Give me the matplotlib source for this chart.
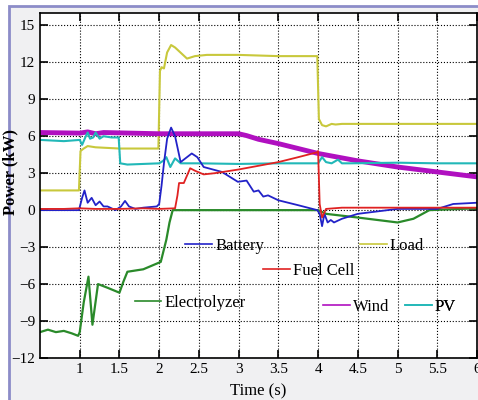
import matplotlib
matplotlib.use("Agg")
import matplotlib.pyplot as plt
from matplotlib.lines import Line2D
from matplotlib.patches import Rectangle

# time (s) / power (kW)
load_t = [0.5, 0.99, 1.01, 1.05, 1.1, 1.2, 1.5, 1.99, 2.01, 2.03, 2.06, 2.1, 2.15, 2.2, 2.3, 2.35, 2.45, 2.6, 3.0, 3.5, 3.99, 4.01, 4.05, 4.1, 4.17, 4.22, 4.3, 5.0, 6.0]
load_p = [1.6, 1.6, 4.8, 5.0, 5.2, 5.1, 5.0, 5.0, 11.3, 11.6, 11.5, 12.8, 13.4, 13.2, 12.6, 12.3, 12.5, 12.6, 12.6, 12.5, 12.5, 7.4, 6.9, 6.8, 7.0, 6.95, 7.0, 7.0, 7.0]

wind_t = [0.5, 1.0, 1.1, 1.2, 1.3, 2.0, 2.5, 3.0, 3.1, 3.25, 3.5, 3.75, 4.0, 4.25, 4.5, 4.75, 5.0, 5.25, 5.5, 5.75, 6.0]
wind_p = [6.3, 6.25, 6.35, 6.2, 6.3, 6.2, 6.2, 6.2, 6.05, 5.75, 5.4, 5.0, 4.6, 4.3, 4.0, 3.75, 3.5, 3.3, 3.1, 2.9, 2.7]

pv_t = [0.5, 0.8, 1.0, 1.03, 1.07, 1.1, 1.13, 1.17, 1.2, 1.25, 1.3, 1.4, 1.49, 1.51, 1.6, 1.8, 2.0, 2.05, 2.09, 2.14, 2.2, 2.27, 2.35, 2.5, 3.0, 3.5, 4.0, 4.05, 4.1, 4.17, 4.25, 4.3, 4.4, 5.0, 5.5, 6.0]
pv_p = [5.7, 5.6, 5.7, 5.3, 5.9, 6.3, 5.8, 5.9, 6.3, 5.8, 6.0, 5.9, 5.9, 3.8, 3.7, 3.75, 3.8, 4.0, 4.3, 3.5, 4.2, 3.8, 3.8, 3.8, 3.75, 3.8, 3.8, 4.3, 3.9, 3.8, 4.1, 3.8, 3.8, 3.85, 3.8, 3.8]

bat_t = [0.5, 0.99, 1.03, 1.06, 1.1, 1.15, 1.2, 1.25, 1.3, 1.35, 1.45, 1.52, 1.57, 1.62, 1.7, 1.8, 1.97, 2.0, 2.03, 2.06, 2.1, 2.15, 2.2, 2.27, 2.35, 2.41, 2.48, 2.56, 2.79, 2.99, 3.1, 3.19, 3.25, 3.31, 3.37, 3.5, 3.75, 3.99, 4.02, 4.05, 4.08, 4.12, 4.16, 4.2, 4.3, 4.5, 5.0, 5.5, 5.7, 6.0]
bat_p = [0.0, 0.0, 1.0, 1.6, 0.6, 1.0, 0.4, 0.7, 0.3, 0.3, 0.0, 0.3, 0.75, 0.3, 0.1, 0.2, 0.3, 0.5, 2.0, 3.8, 5.8, 6.7, 6.0, 3.9, 4.3, 4.6, 4.3, 3.5, 3.1, 2.3, 2.4, 1.5, 1.6, 1.1, 1.2, 0.8, 0.4, 0.0, -0.3, -1.3, -0.3, -1.0, -0.8, -1.0, -0.7, -0.3, 0.1, 0.1, 0.5, 0.6]

fc_t = [0.5, 0.8, 1.0, 1.2, 1.5, 1.8, 2.0, 2.2, 2.23, 2.25, 2.31, 2.35, 2.39, 2.45, 2.56, 2.7, 3.0, 3.25, 3.5, 3.75, 3.99, 4.0, 4.02, 4.05, 4.1, 4.3, 5.0, 6.0]
fc_p = [0.1, 0.1, 0.15, 0.1, 0.1, 0.15, 0.1, 0.15, 1.2, 2.2, 2.2, 2.8, 3.4, 3.2, 2.9, 3.0, 3.3, 3.6, 3.9, 4.3, 4.7, 4.8, 0.5, -0.6, 0.1, 0.2, 0.2, 0.2]

el_t = [0.5, 0.6, 0.7, 0.8, 0.9, 0.98, 1.0, 1.05, 1.11, 1.16, 1.23, 1.35, 1.5, 1.55, 1.6, 1.8, 2.02, 2.09, 2.13, 2.17, 2.2, 3.0, 4.0, 4.1, 4.5, 5.0, 5.2, 5.4, 6.0]
el_p = [-9.9, -9.7, -9.9, -9.8, -10.0, -10.2, -9.9, -7.5, -5.4, -9.3, -6.0, -6.3, -6.7, -5.8, -5.0, -4.8, -4.2, -2.4, -1.0, 0.0, 0.0, 0.0, 0.0, -0.3, -0.6, -1.0, -0.7, 0.0, 0.15]

x_ticks = [1, 1.5, 2, 2.5, 3, 3.5, 4, 4.5, 5, 5.5, 6]
x_labels = ["1", "1.5", "2", "2.5", "3", "3.5", "4", "4.5", "5", "5.5", "6"]
y_ticks = [-12, -9, -6, -3, 0, 3, 6, 9, 12, 15]

plt.rcParams["font.family"] = ["Liberation Serif", "DejaVu Serif"]

fig = plt.figure(figsize=(4.78, 4.0), dpi=100)
fig.patch.set_facecolor("white")
fig.add_artist(Rectangle((9 / 478, -0.05), 1.1, 394 / 400 + 0.05, transform=fig.transFigure,
                         facecolor="#f0f0f2", edgecolor="#8c8cc8", lw=2, zorder=-10))

ax = fig.add_axes([40 / 478, 42 / 400, 437 / 478, 345 / 400])
ax.set_facecolor("white")

c_load, c_wind, c_pv = "#c8c83c", "#b010c0", "#22b8b8"
c_bat, c_fc, c_el = "#2222c8", "#e02222", "#2a8a2a"

ax.plot(load_t, load_p, color=c_load, lw=1.5)
ax.plot(wind_t, wind_p, color=c_wind, lw=3.5)
ax.plot(pv_t, pv_p, color=c_pv, lw=1.5)
ax.plot(el_t, el_p, color=c_el, lw=1.6)
ax.plot(bat_t, bat_p, color=c_bat, lw=1.3)
ax.plot(fc_t, fc_p, color=c_fc, lw=1.3)

ax.set_xlim(0.5, 6.0)
ax.set_ylim(-12, 16)
ax.set_xticks(x_ticks)
ax.set_xticklabels(x_labels)
ax.set_yticks(y_ticks)
ax.tick_params(direction="in", length=6, width=1.2, top=True, right=True, labelsize=11)
ax.grid(True, color="black", ls=":", lw=0.8)
for s in ax.spines.values():
    s.set_linewidth(1.2)

ax.set_ylabel("Power (kW)", fontsize=12, fontweight="bold")
ax.yaxis.set_label_coords(-0.05, 0.54)
ax.set_xlabel("Time (s)", fontsize=12)
ax.xaxis.set_label_coords(0.5, -0.075)

# in-plot labels, one small legend each
entries = [
    ("Battery", c_bat, 0.332, 0.325),
    ("Load", c_load, 0.732, 0.325),
    ("Fuel Cell", c_fc, 0.510, 0.252),
    ("Electrolyzer", c_el, 0.217, 0.159),
    ("Wind", c_wind, 0.648, 0.148),
    ("PV", c_pv, 0.835, 0.148),
]
for name, col, lx, ly in entries:
    h = Line2D([], [], color=col, lw=1.2)
    leg = ax.legend([h], [name], loc="center left", bbox_to_anchor=(lx, ly),
                    frameon=False, borderpad=0, borderaxespad=0,
                    handlelength=1.6, handletextpad=0.2, fontsize=12)
    ax.add_artist(leg)

fig.savefig("out.png", dpi=100)
